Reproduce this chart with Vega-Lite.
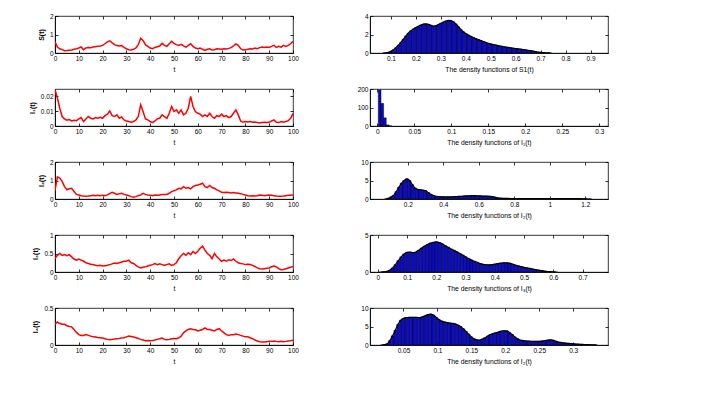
{
"$schema": "https://vega.github.io/schema/vega-lite/v6.json",
"padding": {"left": 27, "top": 12, "right": 5, "bottom": 5},
"background": "white",
"columns": 2,
"spacing": {"row": 36, "column": 77},
"bounds": "flush",
"datasets": {
"ts": [
{"t":0,"S":0.6,"I1":0.0245,"I2":0.45,"I3":0.36,"I4":0.28},
{"t":1,"S":0.32,"I1":0.019,"I2":1.2,"I3":0.45,"I4":0.31},
{"t":2,"S":0.23,"I1":0.012,"I2":1.13,"I3":0.5,"I4":0.29},
{"t":3,"S":0.18,"I1":0.0064,"I2":0.95,"I3":0.45,"I4":0.28},
{"t":4,"S":0.12,"I1":0.0048,"I2":0.67,"I3":0.47,"I4":0.28},
{"t":5,"S":0.13,"I1":0.0039,"I2":0.5,"I3":0.44,"I4":0.26},
{"t":6,"S":0.15,"I1":0.0043,"I2":0.55,"I3":0.47,"I4":0.25},
{"t":7,"S":0.16,"I1":0.0034,"I2":0.58,"I3":0.41,"I4":0.245},
{"t":8,"S":0.2,"I1":0.0039,"I2":0.4,"I3":0.35,"I4":0.21},
{"t":9,"S":0.23,"I1":0.0036,"I2":0.25,"I3":0.32,"I4":0.17},
{"t":10,"S":0.27,"I1":0.0048,"I2":0.22,"I3":0.35,"I4":0.14},
{"t":11,"S":0.33,"I1":0.0057,"I2":0.18,"I3":0.32,"I4":0.13},
{"t":12,"S":0.18,"I1":0.003,"I2":0.16,"I3":0.29,"I4":0.13},
{"t":13,"S":0.27,"I1":0.0048,"I2":0.15,"I3":0.25,"I4":0.14},
{"t":14,"S":0.3,"I1":0.0064,"I2":0.16,"I3":0.23,"I4":0.13},
{"t":15,"S":0.29,"I1":0.0052,"I2":0.18,"I3":0.21,"I4":0.12},
{"t":16,"S":0.32,"I1":0.0048,"I2":0.2,"I3":0.2,"I4":0.11},
{"t":17,"S":0.34,"I1":0.0057,"I2":0.18,"I3":0.18,"I4":0.107},
{"t":18,"S":0.36,"I1":0.0052,"I2":0.2,"I3":0.17,"I4":0.1},
{"t":19,"S":0.38,"I1":0.0059,"I2":0.18,"I3":0.18,"I4":0.098},
{"t":20,"S":0.41,"I1":0.0052,"I2":0.2,"I3":0.16,"I4":0.094},
{"t":21,"S":0.5,"I1":0.007,"I2":0.18,"I3":0.17,"I4":0.085},
{"t":22,"S":0.6,"I1":0.008,"I2":0.22,"I3":0.18,"I4":0.076},
{"t":23,"S":0.66,"I1":0.0102,"I2":0.29,"I3":0.2,"I4":0.071},
{"t":24,"S":0.55,"I1":0.007,"I2":0.36,"I3":0.22,"I4":0.076},
{"t":25,"S":0.45,"I1":0.0064,"I2":0.31,"I3":0.24,"I4":0.08},
{"t":26,"S":0.41,"I1":0.0075,"I2":0.25,"I3":0.23,"I4":0.085},
{"t":27,"S":0.38,"I1":0.0052,"I2":0.29,"I3":0.25,"I4":0.089},
{"t":28,"S":0.4,"I1":0.0061,"I2":0.31,"I3":0.27,"I4":0.094},
{"t":29,"S":0.3,"I1":0.0041,"I2":0.25,"I3":0.29,"I4":0.098},
{"t":30,"S":0.23,"I1":0.0034,"I2":0.22,"I3":0.29,"I4":0.11},
{"t":31,"S":0.18,"I1":0.003,"I2":0.18,"I3":0.32,"I4":0.12},
{"t":32,"S":0.16,"I1":0.0025,"I2":0.13,"I3":0.25,"I4":0.116},
{"t":33,"S":0.2,"I1":0.003,"I2":0.09,"I3":0.23,"I4":0.107},
{"t":34,"S":0.27,"I1":0.0041,"I2":0.13,"I3":0.18,"I4":0.098},
{"t":35,"S":0.45,"I1":0.0064,"I2":0.18,"I3":0.14,"I4":0.089},
{"t":36,"S":0.8,"I1":0.0143,"I2":0.22,"I3":0.11,"I4":0.076},
{"t":37,"S":0.68,"I1":0.0098,"I2":0.31,"I3":0.13,"I4":0.067},
{"t":38,"S":0.45,"I1":0.0048,"I2":0.25,"I3":0.14,"I4":0.058},
{"t":39,"S":0.36,"I1":0.0041,"I2":0.22,"I3":0.16,"I4":0.062},
{"t":40,"S":0.27,"I1":0.003,"I2":0.2,"I3":0.18,"I4":0.058},
{"t":41,"S":0.23,"I1":0.0023,"I2":0.18,"I3":0.2,"I4":0.062},
{"t":42,"S":0.3,"I1":0.0034,"I2":0.22,"I3":0.23,"I4":0.067},
{"t":43,"S":0.34,"I1":0.0048,"I2":0.2,"I3":0.2,"I4":0.076},
{"t":44,"S":0.38,"I1":0.0052,"I2":0.22,"I3":0.22,"I4":0.085},
{"t":45,"S":0.52,"I1":0.0075,"I2":0.24,"I3":0.2,"I4":0.094},
{"t":46,"S":0.41,"I1":0.0064,"I2":0.25,"I3":0.18,"I4":0.076},
{"t":47,"S":0.36,"I1":0.0052,"I2":0.25,"I3":0.2,"I4":0.071},
{"t":48,"S":0.5,"I1":0.0086,"I2":0.31,"I3":0.22,"I4":0.076},
{"t":49,"S":0.63,"I1":0.0132,"I2":0.4,"I3":0.18,"I4":0.085},
{"t":50,"S":0.52,"I1":0.0098,"I2":0.45,"I3":0.2,"I4":0.089},
{"t":51,"S":0.45,"I1":0.0109,"I2":0.49,"I3":0.25,"I4":0.085},
{"t":52,"S":0.41,"I1":0.0086,"I2":0.58,"I3":0.36,"I4":0.098},
{"t":53,"S":0.47,"I1":0.0109,"I2":0.55,"I3":0.44,"I4":0.12},
{"t":54,"S":0.38,"I1":0.0075,"I2":0.67,"I3":0.5,"I4":0.165},
{"t":55,"S":0.32,"I1":0.0086,"I2":0.58,"I3":0.45,"I4":0.19},
{"t":56,"S":0.41,"I1":0.012,"I2":0.62,"I3":0.52,"I4":0.21},
{"t":57,"S":0.5,"I1":0.02,"I2":0.55,"I3":0.47,"I4":0.22},
{"t":58,"S":0.36,"I1":0.0132,"I2":0.67,"I3":0.55,"I4":0.21},
{"t":59,"S":0.27,"I1":0.0098,"I2":0.73,"I3":0.5,"I4":0.205},
{"t":60,"S":0.23,"I1":0.0086,"I2":0.76,"I3":0.56,"I4":0.19},
{"t":61,"S":0.27,"I1":0.008,"I2":0.8,"I3":0.64,"I4":0.2},
{"t":62,"S":0.2,"I1":0.0064,"I2":0.85,"I3":0.7,"I4":0.21},
{"t":63,"S":0.14,"I1":0.0075,"I2":0.67,"I3":0.59,"I4":0.23},
{"t":64,"S":0.2,"I1":0.0064,"I2":0.62,"I3":0.5,"I4":0.21},
{"t":65,"S":0.23,"I1":0.0086,"I2":0.73,"I3":0.45,"I4":0.21},
{"t":66,"S":0.16,"I1":0.0064,"I2":0.62,"I3":0.36,"I4":0.2},
{"t":67,"S":0.18,"I1":0.0052,"I2":0.58,"I3":0.5,"I4":0.19},
{"t":68,"S":0.23,"I1":0.007,"I2":0.49,"I3":0.41,"I4":0.21},
{"t":69,"S":0.22,"I1":0.0064,"I2":0.44,"I3":0.35,"I4":0.22},
{"t":70,"S":0.2,"I1":0.008,"I2":0.36,"I3":0.29,"I4":0.19},
{"t":71,"S":0.23,"I1":0.0064,"I2":0.35,"I3":0.32,"I4":0.165},
{"t":72,"S":0.22,"I1":0.007,"I2":0.36,"I3":0.29,"I4":0.14},
{"t":73,"S":0.25,"I1":0.0057,"I2":0.35,"I3":0.33,"I4":0.13},
{"t":74,"S":0.29,"I1":0.0064,"I2":0.33,"I3":0.31,"I4":0.14},
{"t":75,"S":0.38,"I1":0.0086,"I2":0.35,"I3":0.35,"I4":0.14},
{"t":76,"S":0.49,"I1":0.0109,"I2":0.33,"I3":0.29,"I4":0.147},
{"t":77,"S":0.41,"I1":0.0075,"I2":0.31,"I3":0.25,"I4":0.14},
{"t":78,"S":0.23,"I1":0.0034,"I2":0.29,"I3":0.23,"I4":0.13},
{"t":79,"S":0.16,"I1":0.0025,"I2":0.25,"I3":0.22,"I4":0.12},
{"t":80,"S":0.18,"I1":0.003,"I2":0.22,"I3":0.2,"I4":0.11},
{"t":81,"S":0.2,"I1":0.0027,"I2":0.18,"I3":0.21,"I4":0.11},
{"t":82,"S":0.23,"I1":0.003,"I2":0.16,"I3":0.2,"I4":0.098},
{"t":83,"S":0.22,"I1":0.0025,"I2":0.18,"I3":0.18,"I4":0.085},
{"t":84,"S":0.27,"I1":0.0027,"I2":0.16,"I3":0.15,"I4":0.067},
{"t":85,"S":0.23,"I1":0.0023,"I2":0.18,"I3":0.11,"I4":0.054},
{"t":86,"S":0.29,"I1":0.002,"I2":0.22,"I3":0.09,"I4":0.045},
{"t":87,"S":0.32,"I1":0.0023,"I2":0.2,"I3":0.08,"I4":0.04},
{"t":88,"S":0.3,"I1":0.0025,"I2":0.18,"I3":0.09,"I4":0.04},
{"t":89,"S":0.32,"I1":0.0023,"I2":0.2,"I3":0.1,"I4":0.045},
{"t":90,"S":0.3,"I1":0.0025,"I2":0.22,"I3":0.11,"I4":0.049},
{"t":91,"S":0.36,"I1":0.0034,"I2":0.2,"I3":0.14,"I4":0.049},
{"t":92,"S":0.41,"I1":0.0041,"I2":0.18,"I3":0.16,"I4":0.054},
{"t":93,"S":0.3,"I1":0.0025,"I2":0.16,"I3":0.14,"I4":0.049},
{"t":94,"S":0.36,"I1":0.0023,"I2":0.15,"I3":0.09,"I4":0.045},
{"t":95,"S":0.32,"I1":0.003,"I2":0.15,"I3":0.06,"I4":0.049},
{"t":96,"S":0.41,"I1":0.0025,"I2":0.16,"I3":0.07,"I4":0.045},
{"t":97,"S":0.36,"I1":0.003,"I2":0.18,"I3":0.09,"I4":0.049},
{"t":98,"S":0.41,"I1":0.0036,"I2":0.2,"I3":0.11,"I4":0.054},
{"t":99,"S":0.5,"I1":0.0052,"I2":0.2,"I3":0.13,"I4":0.058},
{"t":100,"S":0.63,"I1":0.0085,"I2":0.22,"I3":0.15,"I4":0.065}
],
"h1": [
{"x":0.07,"d":0},{"x":0.08,"d":0.03},{"x":0.09,"d":0.08},{"x":0.10,"d":0.18},{"x":0.11,"d":0.35},{"x":0.12,"d":0.58},{"x":0.13,"d":0.85},{"x":0.14,"d":1.15},{"x":0.15,"d":1.5},{"x":0.16,"d":1.85},{"x":0.17,"d":2.15},{"x":0.18,"d":2.4},{"x":0.19,"d":2.6},{"x":0.20,"d":2.75},{"x":0.21,"d":2.9},{"x":0.22,"d":3.02},{"x":0.23,"d":3.12},{"x":0.24,"d":3.15},{"x":0.25,"d":3.1},{"x":0.26,"d":3.0},{"x":0.27,"d":2.92},{"x":0.28,"d":2.95},{"x":0.29,"d":3.08},{"x":0.30,"d":3.2},{"x":0.31,"d":3.35},{"x":0.32,"d":3.45},{"x":0.33,"d":3.52},{"x":0.34,"d":3.5},{"x":0.35,"d":3.38},{"x":0.36,"d":3.15},{"x":0.37,"d":2.85},{"x":0.38,"d":2.55},{"x":0.39,"d":2.3},{"x":0.40,"d":2.1},{"x":0.41,"d":1.95},{"x":0.42,"d":1.8},{"x":0.43,"d":1.68},{"x":0.44,"d":1.55},{"x":0.45,"d":1.45},{"x":0.46,"d":1.35},{"x":0.47,"d":1.25},{"x":0.48,"d":1.15},{"x":0.49,"d":1.05},{"x":0.50,"d":0.98},{"x":0.51,"d":0.92},{"x":0.52,"d":0.86},{"x":0.53,"d":0.8},{"x":0.54,"d":0.74},{"x":0.55,"d":0.7},{"x":0.56,"d":0.65},{"x":0.57,"d":0.6},{"x":0.58,"d":0.56},{"x":0.59,"d":0.52},{"x":0.60,"d":0.48},{"x":0.61,"d":0.45},{"x":0.62,"d":0.41},{"x":0.63,"d":0.38},{"x":0.64,"d":0.34},{"x":0.65,"d":0.3},{"x":0.66,"d":0.25},{"x":0.67,"d":0.2},{"x":0.68,"d":0.15},{"x":0.69,"d":0.1},{"x":0.70,"d":0.07},{"x":0.71,"d":0.04},{"x":0.72,"d":0.02},{"x":0.73,"d":0.01},{"x":0.74,"d":0}
],
"h2": [
{"x":0.0033,"d":195},{"x":0.0068,"d":122},{"x":0.0103,"d":44},{"x":0.0138,"d":6},{"x":0.0173,"d":1}
],
"h3": [
{"x":0.075,"d":0},{"x":0.09,"d":0.2},{"x":0.105,"d":0.55},{"x":0.12,"d":1.0},{"x":0.135,"d":2.0},{"x":0.15,"d":3.2},{"x":0.165,"d":4.3},{"x":0.18,"d":5.0},{"x":0.195,"d":5.45},{"x":0.21,"d":5.0},{"x":0.225,"d":3.9},{"x":0.24,"d":3.0},{"x":0.255,"d":2.6},{"x":0.27,"d":2.5},{"x":0.285,"d":2.4},{"x":0.30,"d":2.25},{"x":0.315,"d":1.75},{"x":0.33,"d":1.25},{"x":0.345,"d":0.95},{"x":0.36,"d":0.75},{"x":0.375,"d":0.64},{"x":0.39,"d":0.58},{"x":0.405,"d":0.55},{"x":0.42,"d":0.56},{"x":0.435,"d":0.58},{"x":0.45,"d":0.6},{"x":0.465,"d":0.64},{"x":0.48,"d":0.68},{"x":0.495,"d":0.72},{"x":0.51,"d":0.77},{"x":0.525,"d":0.82},{"x":0.54,"d":0.86},{"x":0.555,"d":0.9},{"x":0.57,"d":0.9},{"x":0.585,"d":0.88},{"x":0.60,"d":0.85},{"x":0.615,"d":0.82},{"x":0.63,"d":0.8},{"x":0.645,"d":0.77},{"x":0.66,"d":0.73},{"x":0.675,"d":0.68},{"x":0.69,"d":0.5},{"x":0.705,"d":0.33},{"x":0.72,"d":0.24},{"x":0.735,"d":0.19},{"x":0.75,"d":0.17},{"x":0.78,"d":0.14},{"x":0.81,"d":0.12},{"x":0.84,"d":0.1},{"x":0.87,"d":0.1},{"x":0.90,"d":0.09},{"x":0.93,"d":0.08},{"x":0.96,"d":0.08},{"x":0.99,"d":0.09},{"x":1.02,"d":0.1},{"x":1.05,"d":0.1},{"x":1.08,"d":0.1},{"x":1.11,"d":0.11},{"x":1.14,"d":0.1},{"x":1.17,"d":0.09},{"x":1.20,"d":0.06},{"x":1.23,"d":0}
],
"h4": [
{"x":0.01,"d":0},{"x":0.02,"d":0.02},{"x":0.03,"d":0.08},{"x":0.04,"d":0.25},{"x":0.05,"d":0.55},{"x":0.06,"d":1.0},{"x":0.07,"d":1.55},{"x":0.08,"d":2.05},{"x":0.09,"d":2.45},{"x":0.10,"d":2.65},{"x":0.11,"d":2.7},{"x":0.12,"d":2.62},{"x":0.13,"d":2.7},{"x":0.14,"d":2.95},{"x":0.15,"d":3.25},{"x":0.16,"d":3.5},{"x":0.17,"d":3.72},{"x":0.18,"d":3.9},{"x":0.19,"d":4.02},{"x":0.20,"d":4.07},{"x":0.21,"d":3.98},{"x":0.22,"d":3.8},{"x":0.23,"d":3.55},{"x":0.24,"d":3.35},{"x":0.25,"d":3.12},{"x":0.26,"d":2.92},{"x":0.27,"d":2.72},{"x":0.28,"d":2.5},{"x":0.29,"d":2.28},{"x":0.30,"d":2.05},{"x":0.31,"d":1.82},{"x":0.32,"d":1.63},{"x":0.33,"d":1.45},{"x":0.34,"d":1.3},{"x":0.35,"d":1.15},{"x":0.36,"d":1.03},{"x":0.37,"d":0.98},{"x":0.38,"d":0.97},{"x":0.39,"d":1.0},{"x":0.40,"d":1.07},{"x":0.41,"d":1.13},{"x":0.42,"d":1.2},{"x":0.43,"d":1.25},{"x":0.44,"d":1.25},{"x":0.45,"d":1.2},{"x":0.46,"d":1.08},{"x":0.47,"d":0.94},{"x":0.48,"d":0.82},{"x":0.49,"d":0.72},{"x":0.50,"d":0.62},{"x":0.51,"d":0.55},{"x":0.52,"d":0.48},{"x":0.53,"d":0.4},{"x":0.54,"d":0.32},{"x":0.55,"d":0.25},{"x":0.56,"d":0.18},{"x":0.57,"d":0.12},{"x":0.58,"d":0.07},{"x":0.59,"d":0.04},{"x":0.60,"d":0.02},{"x":0.61,"d":0}
],
"h5": [
{"x":0.018,"d":0},{"x":0.022,"d":0.1},{"x":0.026,"d":0.35},{"x":0.030,"d":1.2},{"x":0.034,"d":2.5},{"x":0.038,"d":4.0},{"x":0.042,"d":5.6},{"x":0.046,"d":6.7},{"x":0.050,"d":7.2},{"x":0.054,"d":7.4},{"x":0.058,"d":7.45},{"x":0.062,"d":7.5},{"x":0.066,"d":7.5},{"x":0.070,"d":7.45},{"x":0.074,"d":7.4},{"x":0.078,"d":7.6},{"x":0.082,"d":7.9},{"x":0.086,"d":8.2},{"x":0.090,"d":8.35},{"x":0.094,"d":8.1},{"x":0.098,"d":7.5},{"x":0.102,"d":6.9},{"x":0.106,"d":6.5},{"x":0.110,"d":6.25},{"x":0.114,"d":6.05},{"x":0.118,"d":5.95},{"x":0.122,"d":5.85},{"x":0.126,"d":5.7},{"x":0.130,"d":5.4},{"x":0.134,"d":5.0},{"x":0.138,"d":4.4},{"x":0.142,"d":3.7},{"x":0.146,"d":2.9},{"x":0.150,"d":2.2},{"x":0.154,"d":1.65},{"x":0.158,"d":1.4},{"x":0.162,"d":1.35},{"x":0.166,"d":1.6},{"x":0.170,"d":1.95},{"x":0.174,"d":2.4},{"x":0.178,"d":2.85},{"x":0.182,"d":3.1},{"x":0.186,"d":3.3},{"x":0.190,"d":3.5},{"x":0.194,"d":3.75},{"x":0.198,"d":3.85},{"x":0.202,"d":3.8},{"x":0.206,"d":3.4},{"x":0.210,"d":2.85},{"x":0.214,"d":2.2},{"x":0.218,"d":1.7},{"x":0.222,"d":1.35},{"x":0.226,"d":1.2},{"x":0.230,"d":1.1},{"x":0.234,"d":1.05},{"x":0.238,"d":1.0},{"x":0.242,"d":0.98},{"x":0.246,"d":0.98},{"x":0.250,"d":1.0},{"x":0.254,"d":1.07},{"x":0.258,"d":1.15},{"x":0.262,"d":1.3},{"x":0.266,"d":1.38},{"x":0.270,"d":1.3},{"x":0.274,"d":1.05},{"x":0.278,"d":0.82},{"x":0.282,"d":0.7},{"x":0.286,"d":0.58},{"x":0.290,"d":0.5},{"x":0.294,"d":0.42},{"x":0.298,"d":0.37},{"x":0.302,"d":0.3},{"x":0.306,"d":0.25},{"x":0.310,"d":0.2},{"x":0.314,"d":0.16},{"x":0.318,"d":0.12},{"x":0.322,"d":0.08},{"x":0.326,"d":0.05},{"x":0.330,"d":0.03},{"x":0.334,"d":0.01}
]
},
"concat": [
{"width":238,"height":37,"data":{"name":"ts"},
 "resolve":{"axis":{"x":"independent","y":"independent"}},
 "layer":[
 {"mark":{"type":"line","color":"#ff0000","strokeWidth":1.5,"clip":true},
  "encoding":{"x":{"field":"t","type":"quantitative","scale":{"domain":[0,100],"nice":false},"axis":{"values":[0,10,20,30,40,50,60,70,80,90,100],"title":"t"}},
  "y":{"field":"S","type":"quantitative","scale":{"domain":[0,2],"nice":false},"axis":{"values":[0,1,2],"title":"S(t)"}}}},
 {"mark":{"type":"line","opacity":0},
  "encoding":{"x":{"field":"t","type":"quantitative","axis":{"orient":"top","labels":false,"title":null,"domain":false,"values":[0,10,20,30,40,50,60,70,80,90,100]}},
  "y":{"field":"S","type":"quantitative","axis":{"orient":"right","labels":false,"title":null,"domain":false,"values":[0,1,2]}}}}
 ]},
{"width":238,"height":37,"data":{"name":"h1"},
 "resolve":{"axis":{"x":"independent","y":"independent"}},
 "layer":[
 {"mark":{"type":"bar","fill":"#0c0cc4","stroke":"#000000","strokeWidth":0.4,"width":2.6,"clip":true},
  "encoding":{"x":{"field":"x","type":"quantitative","scale":{"domain":[0.036,0.95],"nice":false,"zero":false},"axis":{"values":[0.1,0.2,0.3,0.4,0.5,0.6,0.7,0.8,0.9],"title":"The density functions of S1(t)"}},
  "y":{"field":"d","type":"quantitative","scale":{"domain":[0,4],"nice":false},"axis":{"values":[0,2,4],"title":null}}}},
 {"mark":{"type":"line","color":"#000000","strokeWidth":1.2,"interpolate":"monotone","clip":true},
  "encoding":{"x":{"field":"x","type":"quantitative","axis":null},"y":{"field":"d","type":"quantitative","axis":null}}},
 {"mark":{"type":"line","opacity":0},
  "encoding":{"x":{"field":"x","type":"quantitative","axis":{"orient":"top","labels":false,"title":null,"domain":false,"values":[0.1,0.2,0.3,0.4,0.5,0.6,0.7,0.8,0.9]}},
  "y":{"field":"d","type":"quantitative","axis":{"orient":"right","labels":false,"title":null,"domain":false,"values":[0,2,4]}}}}
 ]},
{"width":238,"height":37,"data":{"name":"ts"},
 "resolve":{"axis":{"x":"independent","y":"independent"}},
 "layer":[
 {"mark":{"type":"line","color":"#ff0000","strokeWidth":1.5,"clip":true},
  "encoding":{"x":{"field":"t","type":"quantitative","scale":{"domain":[0,100],"nice":false},"axis":{"values":[0,10,20,30,40,50,60,70,80,90,100],"title":"t"}},
  "y":{"field":"I1","type":"quantitative","scale":{"domain":[0,0.025],"nice":false},"axis":{"values":[0,0.01,0.02],"title":"I₁(t)"}}}},
 {"mark":{"type":"line","opacity":0},
  "encoding":{"x":{"field":"t","type":"quantitative","axis":{"orient":"top","labels":false,"title":null,"domain":false,"values":[0,10,20,30,40,50,60,70,80,90,100]}},
  "y":{"field":"I1","type":"quantitative","axis":{"orient":"right","labels":false,"title":null,"domain":false,"values":[0,0.01,0.02]}}}}
 ]},
{"width":238,"height":37,"data":{"name":"h2"},
 "resolve":{"axis":{"x":"independent","y":"independent"}},
 "layer":[
 {"mark":{"type":"bar","fill":"#0c0cc4","stroke":"#000000","strokeWidth":0.5,"width":2.7,"clip":true},
  "encoding":{"x":{"field":"x","type":"quantitative","scale":{"domain":[-0.003,0.305],"nice":false,"zero":false},"axis":{"values":[0,0.05,0.1,0.15,0.2,0.25,0.3],"title":"The density functions of I₁(t)"}},
  "y":{"field":"d","type":"quantitative","scale":{"domain":[0,200],"nice":false},"axis":{"values":[0,100,200],"title":null}}}},
 {"mark":{"type":"line","opacity":0},
  "encoding":{"x":{"field":"x","type":"quantitative","axis":{"orient":"top","labels":false,"title":null,"domain":false,"values":[0,0.05,0.1,0.15,0.2,0.25,0.3]}},
  "y":{"field":"d","type":"quantitative","axis":{"orient":"right","labels":false,"title":null,"domain":false,"values":[0,100,200]}}}}
 ]},
{"width":238,"height":37,"data":{"name":"ts"},
 "resolve":{"axis":{"x":"independent","y":"independent"}},
 "layer":[
 {"mark":{"type":"line","color":"#ff0000","strokeWidth":1.5,"clip":true},
  "encoding":{"x":{"field":"t","type":"quantitative","scale":{"domain":[0,100],"nice":false},"axis":{"values":[0,10,20,30,40,50,60,70,80,90,100],"title":"t"}},
  "y":{"field":"I2","type":"quantitative","scale":{"domain":[0,2],"nice":false},"axis":{"values":[0,1,2],"title":"I₂(t)"}}}},
 {"mark":{"type":"line","opacity":0},
  "encoding":{"x":{"field":"t","type":"quantitative","axis":{"orient":"top","labels":false,"title":null,"domain":false,"values":[0,10,20,30,40,50,60,70,80,90,100]}},
  "y":{"field":"I2","type":"quantitative","axis":{"orient":"right","labels":false,"title":null,"domain":false,"values":[0,1,2]}}}}
 ]},
{"width":238,"height":37,"data":{"name":"h3"},
 "resolve":{"axis":{"x":"independent","y":"independent"}},
 "layer":[
 {"mark":{"type":"bar","fill":"#0c0cc4","stroke":"#000000","strokeWidth":0.4,"width":2.8,"clip":true},
  "encoding":{"x":{"field":"x","type":"quantitative","scale":{"domain":[0.015,1.3],"nice":false,"zero":false},"axis":{"values":[0.2,0.4,0.6,0.8,1,1.2],"title":"The density functions of I₂(t)"}},
  "y":{"field":"d","type":"quantitative","scale":{"domain":[0,10],"nice":false},"axis":{"values":[0,5,10],"title":null}}}},
 {"mark":{"type":"line","color":"#000000","strokeWidth":1.2,"interpolate":"monotone","clip":true},
  "encoding":{"x":{"field":"x","type":"quantitative","axis":null},"y":{"field":"d","type":"quantitative","axis":null}}},
 {"mark":{"type":"line","opacity":0},
  "encoding":{"x":{"field":"x","type":"quantitative","axis":{"orient":"top","labels":false,"title":null,"domain":false,"values":[0.2,0.4,0.6,0.8,1,1.2]}},
  "y":{"field":"d","type":"quantitative","axis":{"orient":"right","labels":false,"title":null,"domain":false,"values":[0,5,10]}}}}
 ]},
{"width":238,"height":37,"data":{"name":"ts"},
 "resolve":{"axis":{"x":"independent","y":"independent"}},
 "layer":[
 {"mark":{"type":"line","color":"#ff0000","strokeWidth":1.5,"clip":true},
  "encoding":{"x":{"field":"t","type":"quantitative","scale":{"domain":[0,100],"nice":false},"axis":{"values":[0,10,20,30,40,50,60,70,80,90,100],"title":"t"}},
  "y":{"field":"I3","type":"quantitative","scale":{"domain":[0,1],"nice":false},"axis":{"values":[0,0.5,1],"title":"I₃(t)"}}}},
 {"mark":{"type":"line","opacity":0},
  "encoding":{"x":{"field":"t","type":"quantitative","axis":{"orient":"top","labels":false,"title":null,"domain":false,"values":[0,10,20,30,40,50,60,70,80,90,100]}},
  "y":{"field":"I3","type":"quantitative","axis":{"orient":"right","labels":false,"title":null,"domain":false,"values":[0,0.5,1]}}}}
 ]},
{"width":238,"height":37,"data":{"name":"h4"},
 "resolve":{"axis":{"x":"independent","y":"independent"}},
 "layer":[
 {"mark":{"type":"bar","fill":"#0c0cc4","stroke":"#000000","strokeWidth":0.4,"width":3,"clip":true},
  "encoding":{"x":{"field":"x","type":"quantitative","scale":{"domain":[-0.01,0.77],"nice":false,"zero":false},"axis":{"values":[0,0.1,0.2,0.3,0.4,0.5,0.6,0.7],"title":"The density functions of I₃(t)"}},
  "y":{"field":"d","type":"quantitative","scale":{"domain":[0,5],"nice":false},"axis":{"values":[0,5],"title":null}}}},
 {"mark":{"type":"line","color":"#000000","strokeWidth":1.2,"interpolate":"monotone","clip":true},
  "encoding":{"x":{"field":"x","type":"quantitative","axis":null},"y":{"field":"d","type":"quantitative","axis":null}}},
 {"mark":{"type":"line","opacity":0},
  "encoding":{"x":{"field":"x","type":"quantitative","axis":{"orient":"top","labels":false,"title":null,"domain":false,"values":[0,0.1,0.2,0.3,0.4,0.5,0.6,0.7]}},
  "y":{"field":"d","type":"quantitative","axis":{"orient":"right","labels":false,"title":null,"domain":false,"values":[0,5]}}}}
 ]},
{"width":238,"height":37,"data":{"name":"ts"},
 "resolve":{"axis":{"x":"independent","y":"independent"}},
 "layer":[
 {"mark":{"type":"line","color":"#ff0000","strokeWidth":1.5,"clip":true},
  "encoding":{"x":{"field":"t","type":"quantitative","scale":{"domain":[0,100],"nice":false},"axis":{"values":[0,10,20,30,40,50,60,70,80,90,100],"title":"t"}},
  "y":{"field":"I4","type":"quantitative","scale":{"domain":[0,0.5],"nice":false},"axis":{"values":[0,0.5],"title":"I₄(t)"}}}},
 {"mark":{"type":"line","opacity":0},
  "encoding":{"x":{"field":"t","type":"quantitative","axis":{"orient":"top","labels":false,"title":null,"domain":false,"values":[0,10,20,30,40,50,60,70,80,90,100]}},
  "y":{"field":"I4","type":"quantitative","axis":{"orient":"right","labels":false,"title":null,"domain":false,"values":[0,0.5]}}}}
 ]},
{"width":238,"height":37,"data":{"name":"h5"},
 "resolve":{"axis":{"x":"independent","y":"independent"}},
 "layer":[
 {"mark":{"type":"bar","fill":"#0c0cc4","stroke":"#000000","strokeWidth":0.4,"width":2.8,"clip":true},
  "encoding":{"x":{"field":"x","type":"quantitative","scale":{"domain":[0.008,0.344],"nice":false,"zero":false},"axis":{"values":[0.05,0.1,0.15,0.2,0.25,0.3],"title":"The density functions of I₂(t)"}},
  "y":{"field":"d","type":"quantitative","scale":{"domain":[0,10],"nice":false},"axis":{"values":[0,5,10],"title":null}}}},
 {"mark":{"type":"line","color":"#000000","strokeWidth":1.2,"interpolate":"monotone","clip":true},
  "encoding":{"x":{"field":"x","type":"quantitative","axis":null},"y":{"field":"d","type":"quantitative","axis":null}}},
 {"mark":{"type":"line","opacity":0},
  "encoding":{"x":{"field":"x","type":"quantitative","axis":{"orient":"top","labels":false,"title":null,"domain":false,"values":[0.05,0.1,0.15,0.2,0.25,0.3]}},
  "y":{"field":"d","type":"quantitative","axis":{"orient":"right","labels":false,"title":null,"domain":false,"values":[0,5,10]}}}}
 ]}
],
"config": {
 "font": "Liberation Sans",
 "view": {"stroke": "#000000", "strokeWidth": 0.8},
 "axis": {"grid": false, "labelFontSize": 6.5, "titleFontSize": 6.8, "titleFontWeight": "normal", "labelColor": "#000000", "titleColor": "#000000", "tickColor": "#000000", "domainColor": "#000000", "domainWidth": 0.8, "tickWidth": 0.8, "tickSize": -3, "labelPadding": 5, "titlePadding": 5, "labelFlush": false, "labelOverlap": false, "format": ".6~g"},
 "axisY": {"titleFontWeight": "bold", "titleFontSize": 7}
}
}
